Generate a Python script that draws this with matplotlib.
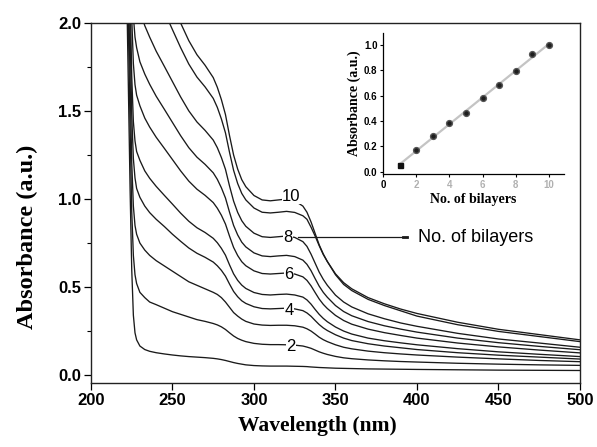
import numpy as np
import matplotlib
matplotlib.use("Agg")
import matplotlib.pyplot as plt
from matplotlib.ticker import MultipleLocator

# ---- data ----
wavelength = [216, 218, 220, 222, 224, 225, 226, 227, 228, 230, 233, 236, 240, 245,
              250, 255, 260, 265, 270, 275, 277.5, 280, 282.5, 285, 287.5, 290, 292.5,
              295, 300, 305, 310, 315, 320, 325, 330, 332.5, 335, 337.5, 340, 342.5,
              345, 350, 355, 360, 370, 380, 390, 400, 425, 450, 475, 500]

abs_1 = [5.0, 4.0, 3.1, 2.15, 1.05, 0.6, 0.34, 0.24, 0.2, 0.165, 0.145, 0.135, 0.127, 0.12,
         0.114, 0.109, 0.105, 0.102, 0.099, 0.095, 0.092, 0.088, 0.083, 0.077, 0.071,
         0.066, 0.062, 0.058, 0.054, 0.052, 0.051, 0.051, 0.051, 0.05, 0.049, 0.048,
         0.046, 0.0445, 0.043, 0.042, 0.041, 0.039, 0.038, 0.037, 0.035, 0.034, 0.033,
         0.032, 0.03, 0.028, 0.027, 0.026]
abs_2 = [5.5, 4.5, 3.5, 2.5, 1.4, 0.93, 0.68, 0.57, 0.52, 0.47, 0.44, 0.415, 0.40, 0.38,
         0.36, 0.345, 0.33, 0.315, 0.305, 0.293, 0.285, 0.274, 0.259, 0.24, 0.222,
         0.208, 0.198, 0.19, 0.18, 0.175, 0.173, 0.173, 0.172, 0.17, 0.165, 0.159,
         0.152, 0.142, 0.132, 0.124, 0.117, 0.106, 0.098, 0.093, 0.086, 0.081, 0.077,
         0.074, 0.067, 0.062, 0.058, 0.055]
abs_3 = [5.8, 4.8, 3.8, 2.78, 1.67, 1.21, 0.96, 0.85, 0.80, 0.75, 0.71, 0.68, 0.65, 0.62,
         0.59, 0.56, 0.53, 0.51, 0.49, 0.47, 0.458, 0.44, 0.415, 0.385, 0.355,
         0.335, 0.318, 0.305, 0.29, 0.284, 0.282, 0.283, 0.283, 0.28, 0.272, 0.263,
         0.25, 0.233, 0.215, 0.201, 0.19, 0.172, 0.158, 0.149, 0.136, 0.127, 0.12,
         0.114, 0.102, 0.092, 0.083, 0.076]
abs_4 = [6.1, 5.1, 4.08, 3.06, 1.95, 1.48, 1.23, 1.12, 1.06, 1.01, 0.96, 0.923, 0.885, 0.844,
         0.80, 0.76, 0.722, 0.692, 0.669, 0.642, 0.621, 0.595, 0.562, 0.517, 0.475,
         0.445, 0.422, 0.407, 0.388, 0.378, 0.376, 0.378, 0.38, 0.376, 0.366, 0.353,
         0.334, 0.31, 0.287, 0.268, 0.253, 0.229, 0.21, 0.196, 0.178, 0.165, 0.155,
         0.145, 0.127, 0.113, 0.102, 0.091]
abs_5 = [6.3, 5.33, 4.31, 3.29, 2.17, 1.70, 1.44, 1.33, 1.27, 1.22, 1.16, 1.118, 1.072, 1.021,
         0.971, 0.92, 0.874, 0.837, 0.81, 0.777, 0.752, 0.72, 0.681, 0.626, 0.575,
         0.538, 0.511, 0.492, 0.469, 0.458, 0.455, 0.458, 0.46, 0.455, 0.443, 0.427,
         0.403, 0.373, 0.345, 0.322, 0.303, 0.273, 0.25, 0.233, 0.21, 0.195, 0.183,
         0.172, 0.15, 0.132, 0.118, 0.105]
abs_6 = [6.7, 5.68, 4.65, 3.62, 2.5, 2.03, 1.77, 1.65, 1.59, 1.53, 1.46, 1.409, 1.351, 1.288,
         1.224, 1.16, 1.102, 1.056, 1.021, 0.98, 0.948, 0.908, 0.858, 0.789, 0.725,
         0.679, 0.644, 0.621, 0.592, 0.577, 0.574, 0.577, 0.58, 0.574, 0.558, 0.538,
         0.507, 0.469, 0.432, 0.402, 0.378, 0.339, 0.31, 0.289, 0.261, 0.241, 0.225,
         0.21, 0.182, 0.16, 0.142, 0.126]
abs_7 = [7.0, 5.97, 4.94, 3.9, 2.77, 2.3, 2.04, 1.92, 1.86, 1.78, 1.71, 1.652, 1.584, 1.51,
         1.435, 1.36, 1.292, 1.238, 1.197, 1.149, 1.112, 1.064, 1.006, 0.925, 0.85,
         0.796, 0.755, 0.728, 0.694, 0.677, 0.673, 0.677, 0.68, 0.673, 0.653, 0.629,
         0.593, 0.548, 0.505, 0.47, 0.442, 0.395, 0.361, 0.337, 0.304, 0.28, 0.261,
         0.244, 0.21, 0.184, 0.163, 0.144]
abs_8 = [7.3, 6.3, 5.25, 4.21, 3.07, 2.6, 2.33, 2.21, 2.15, 2.07, 1.985, 1.92, 1.84, 1.754,
         1.667, 1.58, 1.501, 1.438, 1.39, 1.335, 1.292, 1.236, 1.169, 1.074, 0.988,
         0.924, 0.877, 0.845, 0.806, 0.786, 0.782, 0.786, 0.79, 0.782, 0.758, 0.731,
         0.687, 0.636, 0.585, 0.544, 0.51, 0.454, 0.415, 0.387, 0.348, 0.32, 0.296,
         0.277, 0.237, 0.205, 0.182, 0.158]
abs_9 = [8.0, 6.7, 5.65, 4.6, 3.46, 2.98, 2.71, 2.58, 2.515, 2.43, 2.335, 2.26, 2.167, 2.065,
         1.962, 1.86, 1.767, 1.693, 1.637, 1.572, 1.521, 1.455, 1.376, 1.265, 1.163,
         1.088, 1.032, 0.995, 0.949, 0.925, 0.921, 0.925, 0.93, 0.924, 0.905, 0.885,
         0.84, 0.79, 0.735, 0.685, 0.645, 0.57, 0.515, 0.48, 0.43, 0.395, 0.365,
         0.335, 0.286, 0.248, 0.219, 0.19]
abs_10 = [8.3, 6.9, 5.85, 4.8, 3.65, 3.17, 2.9, 2.77, 2.7, 2.61, 2.51, 2.43, 2.33, 2.22,
          2.11, 2.0, 1.9, 1.82, 1.76, 1.69, 1.635, 1.565, 1.48, 1.36, 1.25,
          1.17, 1.11, 1.07, 1.02, 0.995, 0.99, 0.995, 1.0, 0.99, 0.96, 0.925,
          0.87, 0.805, 0.74, 0.688, 0.645, 0.575, 0.525, 0.49, 0.44, 0.405, 0.375,
          0.35, 0.30, 0.26, 0.23, 0.20]

spectra = [abs_1, abs_2, abs_3, abs_4, abs_5, abs_6, abs_7, abs_8, abs_9, abs_10]

# curve labels (bilayer number, wavelength, absorbance)
label_text = ["10", "8", "6", "4", "2"]
label_x = [323, 321, 321.5, 321.5, 322.5]
label_y = [1.017, 0.784, 0.574, 0.369, 0.165]

# inset: absorbance at ~320 nm vs number of bilayers
bilayers = [1, 2, 3, 4, 5, 6, 7, 8, 9, 10]
abs_320 = [0.053, 0.17, 0.28, 0.38, 0.46, 0.58, 0.68, 0.79, 0.93, 1.0]

serif = ["Liberation Serif", "DejaVu Serif"]
sans = ["Liberation Sans", "DejaVu Sans"]

fig = plt.figure(figsize=(5.97, 4.47), dpi=100)
ax = fig.add_axes([0.1524, 0.1432, 0.8191, 0.8053])

for y in spectra:
    ax.plot(wavelength, y, color="#1a1a1a", lw=0.95, solid_joinstyle="round")

ax.set_xlim(200, 500)
ax.set_ylim(-0.045, 2.0)
ax.xaxis.set_major_locator(MultipleLocator(50))
ax.yaxis.set_major_locator(MultipleLocator(0.5))
ax.yaxis.set_minor_locator(MultipleLocator(0.25))
ax.tick_params(axis="both", which="major", direction="out", length=5, width=0.9,
               labelsize=12, pad=2)
ax.tick_params(axis="y", which="minor", direction="out", length=3, width=0.8)
for lab in ax.get_xticklabels() + ax.get_yticklabels():
    lab.set_fontweight("bold")
    lab.set_family(sans)
for s in ax.spines.values():
    s.set_linewidth(1.0)
    s.set_color("#222222")

ax.set_xlabel("Wavelength (nm)", fontsize=15.5, fontweight="bold", family=serif)
ax.set_ylabel("Absorbance (a.u.)", fontsize=17.5, fontweight="bold", family=serif)
ax.xaxis.set_label_coords(0.462, -0.093)
ax.yaxis.set_label_coords(-0.108, 0.405)

for t, x, y in zip(label_text, label_x, label_y):
    ax.text(x, y, t, fontsize=12, family=sans, ha="center", va="center",
            bbox=dict(facecolor="white", edgecolor="none", pad=0.3))

ax.plot([327, 394], [0.784, 0.784], color="#1a1a1a", lw=0.9)
ax.plot([391.5, 394], [0.784, 0.784], color="#1a1a1a", lw=2.0)
ax.text(400.5, 0.784, "No. of bilayers", fontsize=13, family=sans, ha="left", va="center")

# inset
ins = fig.add_axes([0.6415, 0.6103, 0.3032, 0.3163])
ins.patch.set_alpha(0)
fit = np.polyfit(bilayers, abs_320, 1)
ins.plot([1, 10], np.polyval(fit, [1, 10]), color="#c4c4c4", lw=1.6, zorder=1)
ins.plot(bilayers[:1], abs_320[:1], "s", color="#111111", ms=3.6, zorder=2)
ins.plot(bilayers[1:], abs_320[1:], "o", color="#1e1e1e", ms=4.2, mec="#555555", zorder=2)
ins.set_xlim(0, 10.9)
ins.set_ylim(-0.02, 1.094)
ins.spines["top"].set_visible(False)
ins.spines["right"].set_visible(False)
for s in ("left", "bottom"):
    ins.spines[s].set_linewidth(0.9)
ins.set_xticks([0, 2, 4, 6, 8, 10])
ins.set_yticks([0.0, 0.2, 0.4, 0.6, 0.8, 1.0])
ins.set_yticklabels(["0.0", "0.2", "0.4", "0.6", "0.8", "1.0"])
ins.tick_params(direction="out", length=2.5, width=0.8, labelsize=7, pad=1.5)
for lab in ins.get_xticklabels() + ins.get_yticklabels():
    lab.set_fontweight("bold")
    lab.set_family(sans)
for lab in ins.get_xticklabels()[1:]:
    lab.set_color("#b0b0b0")
ins.set_xlabel("No. of bilayers", fontsize=10, fontweight="bold", family=serif, labelpad=2)
ins.set_ylabel("Absorbance (a.u.)", fontsize=10, fontweight="bold", family=serif, labelpad=2)

fig.savefig("out.png", dpi=100)
